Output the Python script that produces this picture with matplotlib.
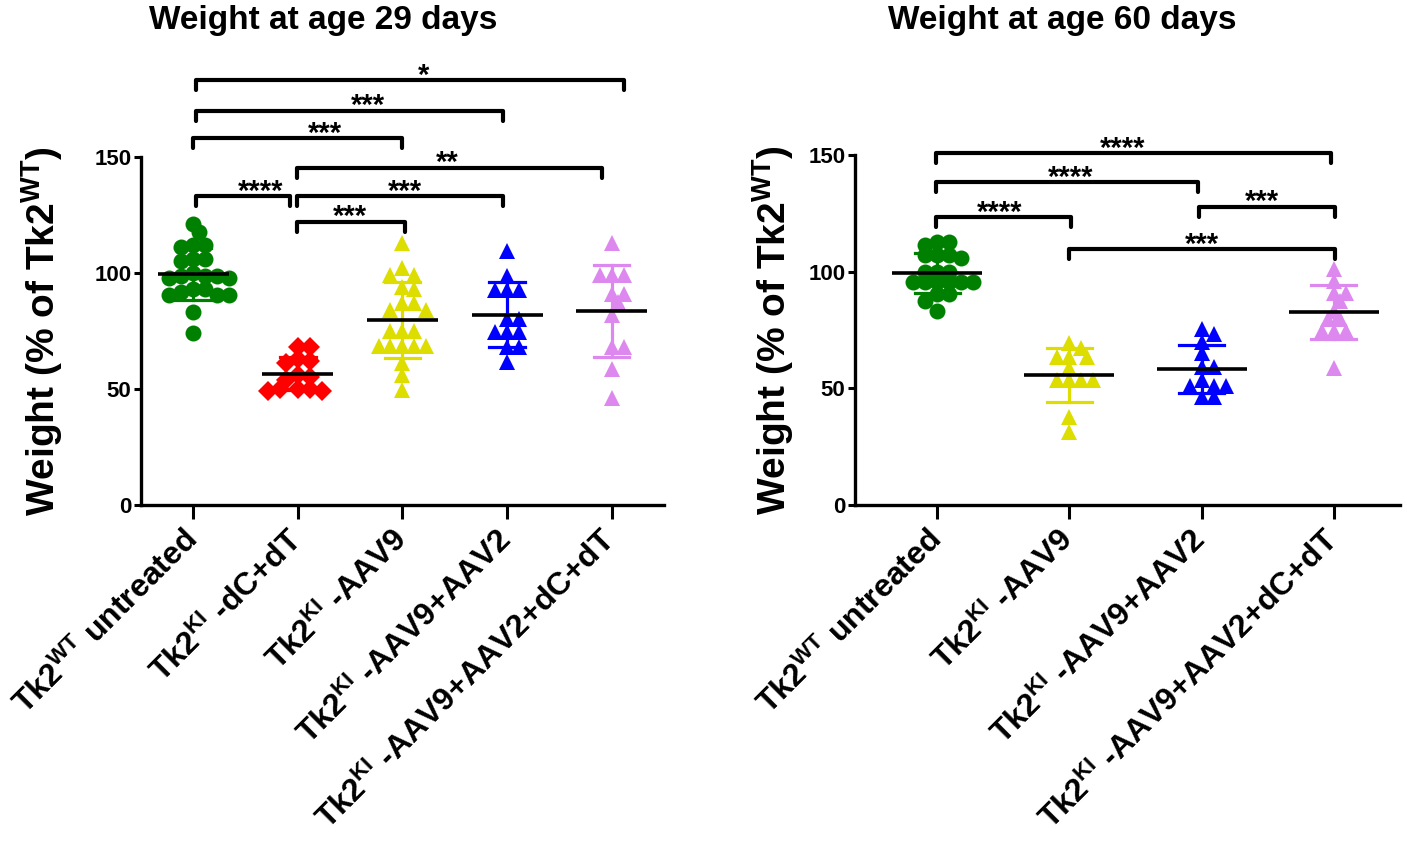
import numpy as np
import matplotlib
matplotlib.use("Agg")
import matplotlib.pyplot as plt

plt.rcParams['font.family'] = ['Liberation Sans', 'DejaVu Sans']
plt.rcParams['font.weight'] = 'bold'
plt.rcParams['mathtext.fontset'] = 'custom'
plt.rcParams['mathtext.rm'] = 'Liberation Sans:bold'
plt.rcParams['mathtext.it'] = 'Liberation Sans:bold'
plt.rcParams['mathtext.bf'] = 'Liberation Sans:bold'

# ---------------- data: weight at 29 days ----------------
labels_29 = [r"Tk2$^{\mathrm{WT}}$ untreated",
             r"Tk2$^{\mathrm{KI}}$ -dC+dT",
             r"Tk2$^{\mathrm{KI}}$ -AAV9",
             r"Tk2$^{\mathrm{KI}}$ -AAV9+AAV2",
             r"Tk2$^{\mathrm{KI}}$ -AAV9+AAV2+dC+dT"]
wt_29 = [121, 117.5, 112, 112, 111, 106, 106, 105, 100, 98.5, 98.5, 98, 98,
         98.5, 93, 93, 92, 90.5, 90.5, 90.5, 83, 74]
dcdt_29 = [68, 68, 63, 62, 61, 56, 55, 54, 50, 50, 49, 49, 50]
aav9_29 = [113, 102, 99, 99, 94, 93, 87, 87, 84, 84, 75, 75, 75, 68.7, 68.7,
           68.7, 68.7, 68.7, 61, 56, 49.6]
aav92_29 = [109.5, 98.7, 92.5, 92.5, 92.5, 80, 80, 74.5, 74.5, 74.5, 68, 68, 61.6]
aav92dcdt_29 = [113, 99.3, 99.3, 99.3, 91, 91, 87.3, 82, 68, 68, 58.8, 46]
groups_29 = [wt_29, dcdt_29, aav9_29, aav92_29, aav92dcdt_29]
colors_29 = ['#008000', '#FF0000', '#DDDD00', '#0000FF', '#DD88EE']
markers_29 = ['o', 'D', '^', '^', '^']
# brackets: (x_start, x_end, y, label, label_x)
brackets_29 = [(0.03, 4.12, 183, '*', 2.2),
               (0.03, 2.96, 170, '***', 1.67),
               (0.00, 2.00, 158, '***', 1.26),
               (0.99, 3.91, 145.4, '**', 2.43),
               (0.03, 0.92, 133, '****', 0.64),
               (0.99, 2.96, 133, '***', 2.02),
               (0.99, 2.02, 122, '***', 1.50)]

# ---------------- data: weight at 60 days ----------------
labels_60 = [r"Tk2$^{\mathrm{WT}}$ untreated",
             r"Tk2$^{\mathrm{KI}}$ -AAV9",
             r"Tk2$^{\mathrm{KI}}$ -AAV9+AAV2",
             r"Tk2$^{\mathrm{KI}}$ -AAV9+AAV2+dC+dT"]
wt_60 = [111.4, 112.7, 112.7, 107, 107, 107, 106, 100, 100, 100,
         95.7, 95.7, 95.7, 95.7, 95.7, 95.7, 90.4, 90.4, 87.4, 83.3]
aav9_60 = [69.6, 67.2, 63.6, 63.6, 63.6, 58.6, 53.4, 53.4, 53.4, 53.4, 37.8, 31.4]
aav92_60 = [75.4, 73.3, 70, 65, 59, 59, 53.6, 51, 51, 51, 46.3, 46.3]
aav92dcdt_60 = [101, 96, 91, 91, 87.4, 83, 79.7, 79.7, 74.6, 74.6, 74.6, 58.5]
groups_60 = [wt_60, aav9_60, aav92_60, aav92dcdt_60]
colors_60 = ['#008000', '#DDDD00', '#0000FF', '#DD88EE']
markers_60 = ['o', '^', '^', '^']
brackets_60 = [(-0.01, 2.98, 150.7, '****', 1.40),
               (-0.01, 1.97, 138.3, '****', 1.01),
               (1.98, 3.01, 127.9, '***', 2.46),
               (-0.01, 1.01, 123.3, '****', 0.47),
               (1.00, 3.01, 109.6, '***', 2.00)]


def swarm(vals, px_x, px_y, d_px, step_px):
    vals = np.asarray(vals, float)
    order = np.argsort(-vals)
    placed = []
    offs = np.zeros(len(vals))
    for i in order:
        y = vals[i] * px_y
        k = 0
        while True:
            cands = [0] if k == 0 else [k, -k]
            ok = None
            for c in cands:
                x = c * step_px
                if all((x - px) ** 2 + (y - py) ** 2 >= d_px ** 2 for px, py in placed):
                    ok = x
                    break
            if ok is not None:
                placed.append((ok, y))
                offs[i] = ok / px_x
                break
            k += 1
    return offs


def draw_panel(ax, groups, colors, markers, labels, brackets, xlim, px_x, ylab_x):
    px_y = 2.32
    for i, (vals, c, m) in enumerate(zip(groups, colors, markers)):
        vals = np.asarray(vals, float)
        offs = swarm(vals, px_x, px_y, 9.5, 6.0)
        ms = 11.5 if m == 'o' else (10.5 if m == 'D' else 12)
        ax.plot(i + offs, vals, linestyle='none', marker=m, ms=ms, color=c,
                markeredgewidth=0, zorder=2, clip_on=False)
        mu = vals.mean()
        sd = vals.std(ddof=1)
        ax.plot([i, i], [mu - sd, mu + sd], color=c, lw=2.3, zorder=3)
        for yy in (mu - sd, mu + sd):
            ax.plot([i - 0.17, i + 0.17], [yy, yy], color=c, lw=2.3, zorder=3)
        ax.plot([i - 0.34, i + 0.34], [mu, mu], color='black', lw=2.6, zorder=4,
                solid_capstyle='butt')
    tip = 4.3
    for x1, x2, y, lab, lx in brackets:
        ax.plot([x1, x1, x2, x2], [y - tip, y, y, y - tip], color='black', lw=3.0,
                solid_capstyle='round', solid_joinstyle='round', clip_on=False,
                zorder=5)
        ax.annotate(lab, xy=(lx, y), xytext=(0, -2.5), textcoords='offset points',
                    ha='center', va='baseline', fontsize=21, fontweight='bold',
                    annotation_clip=False)
    ax.set_xlim(*xlim)
    ax.set_ylim(0, 150)
    ax.set_yticks([0, 50, 100, 150])
    ax.set_xticks(range(len(groups)))
    ax.set_xticklabels(labels, rotation=45, ha='right', va='center',
                       rotation_mode='anchor', fontsize=23, fontweight='bold')
    ax.tick_params(axis='x', length=10, width=2.2, pad=12)
    ax.tick_params(axis='y', length=5, width=2.2, pad=2, labelsize=16)
    for t in ax.get_yticklabels():
        t.set_fontweight('bold')
    for s in ('top', 'right'):
        ax.spines[s].set_visible(False)
    for s in ('left', 'bottom'):
        ax.spines[s].set_linewidth(2.4)
    ax.set_ylabel(r"Weight (% of Tk2$^{\mathrm{WT}}$)", fontsize=28,
                  fontweight='bold')
    ax.yaxis.set_label_coords(ylab_x, 0.5)


fig = plt.figure(figsize=(14.07, 8.44), dpi=100)
ax1 = fig.add_axes([0.1002, 0.4017, 0.3717, 0.4123])
ax2 = fig.add_axes([0.6077, 0.4017, 0.3873, 0.4147])
draw_panel(ax1, groups_29, colors_29, markers_29, labels_29, brackets_29,
           (-0.5, 4.5), 104.75, -0.145)
draw_panel(ax2, groups_60, colors_60, markers_60, labels_60, brackets_60,
           (-0.62, 3.5), 132.3, -0.108)
fig.text(323 / 1407, 1 - 20 / 844, "Weight at age 29 days", ha='center',
         va='center', fontsize=24, fontweight='bold')
fig.text(1062 / 1407, 1 - 20 / 844, "Weight at age 60 days", ha='center',
         va='center', fontsize=24, fontweight='bold')
fig.savefig("out.png", dpi=100)
